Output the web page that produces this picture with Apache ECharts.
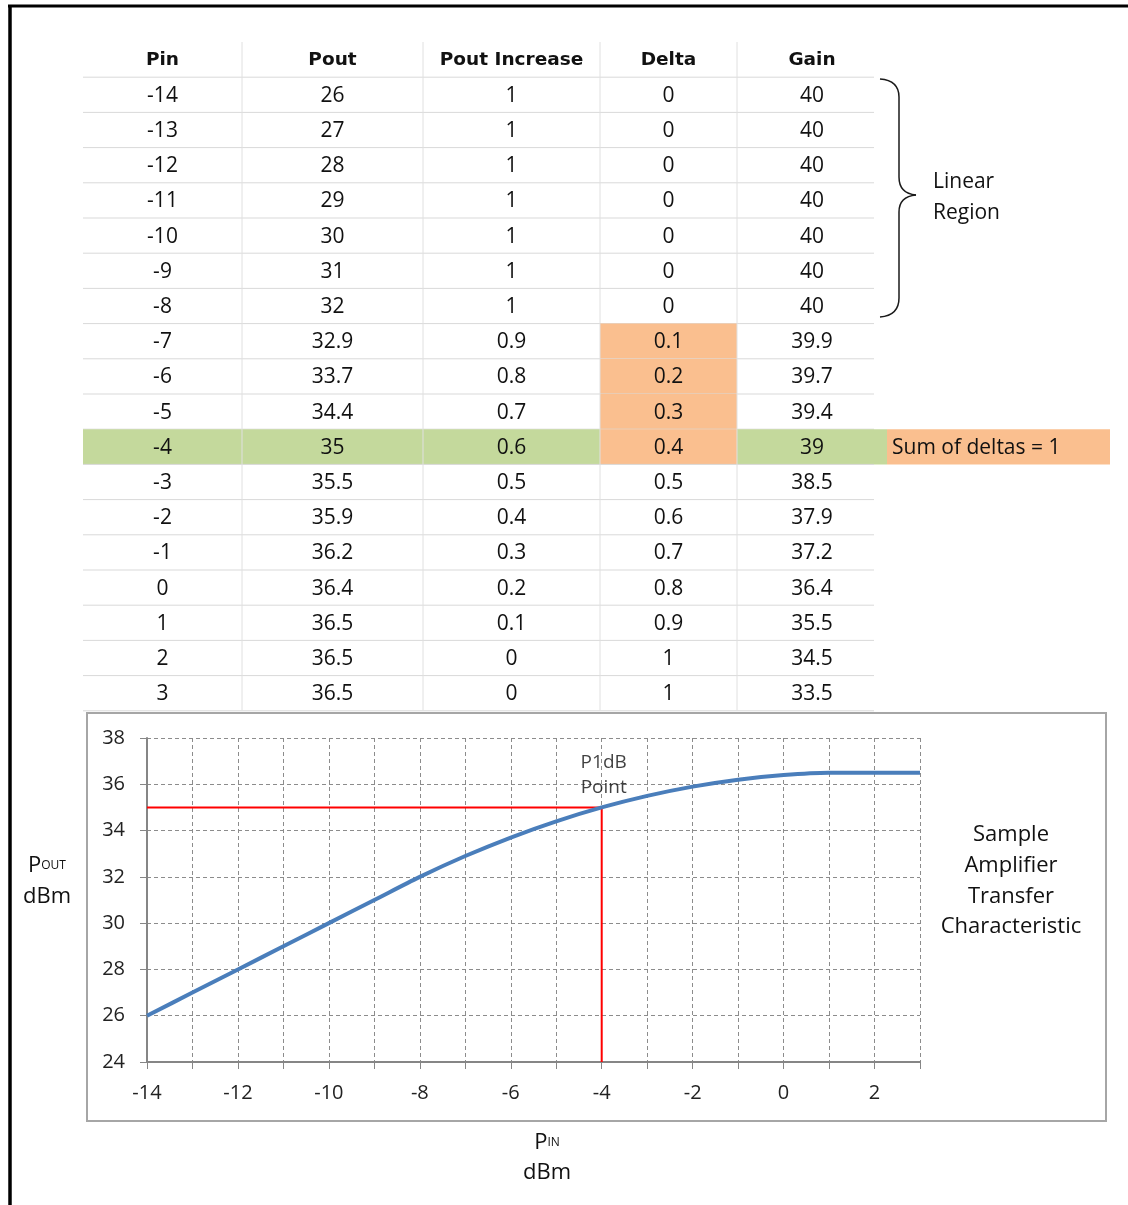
<!DOCTYPE html>
<html><head><meta charset="utf-8">
<script src="https://cdn.jsdelivr.net/npm/echarts@6/dist/echarts.min.js"></script>
<style>html,body{margin:0;padding:0;background:#fff}#main{width:1128px;height:1205px}</style>
</head><body><div id="main"></div>
<script>
// ---------- data ----------
const columnHeaders = ['Pin', 'Pout', 'Pout Increase', 'Delta', 'Gain'];
const pinValues = [-14, -13, -12, -11, -10, -9, -8, -7, -6, -5, -4, -3, -2, -1, 0, 1, 2, 3];
const poutValues = [26, 27, 28, 29, 30, 31, 32, 32.9, 33.7, 34.4, 35, 35.5, 35.9, 36.2, 36.4, 36.5, 36.5, 36.5];
const poutIncrease = [1, 1, 1, 1, 1, 1, 1, 0.9, 0.8, 0.7, 0.6, 0.5, 0.4, 0.3, 0.2, 0.1, 0, 0];
const deltaValues = [0, 0, 0, 0, 0, 0, 0, 0.1, 0.2, 0.3, 0.4, 0.5, 0.6, 0.7, 0.8, 0.9, 1, 1];
const gainValues = [40, 40, 40, 40, 40, 40, 40, 39.9, 39.7, 39.4, 39, 38.5, 37.9, 37.2, 36.4, 35.5, 34.5, 33.5];
const p1dbPin = -4;
const deltaSumPins = [-7, -6, -5, -4];
const noteText = 'Sum of deltas = 1';
const linearRegionText = 'Linear\nRegion';
const chartTitle = 'Sample\nAmplifier\nTransfer\nCharacteristic';
const p1dbLabel = 'P1dB\nPoint';
const xRange = [-14, 3];
const yRange = [24, 38];

// ---------- layout / style ----------
const colLeft = [83, 242, 423, 600, 737, 887];
const colRight = [242, 423, 600, 737, 887, 1110];
const lineTrim = [0, 0, 0, 0, 13, 0];
const tableTop = 42, rowH = 35.2;
const GREEN = '#c4d99c', ORANGE = '#fabf8f';
const TXT = '#111111';
const columns = [pinValues, poutValues, poutIncrease, deltaValues, gainValues];
const rowKeys = ['hdr'].concat(pinValues.map(String));

function cellText(c, r) {
  if (c === 5) return (r > 0 && pinValues[r - 1] === p1dbPin) ? noteText : '';
  if (r === 0) return columnHeaders[c];
  return String(columns[c][r - 1]);
}
function cellFill(c, r) {
  if (r === 0) return null;
  const pin = pinValues[r - 1];
  if (c === 5) return pin === p1dbPin ? ORANGE : null;
  if (c === 3 && deltaSumPins.indexOf(pin) >= 0) return ORANGE;
  if (pin === p1dbPin) return GREEN;
  return null;
}
function makeCellRenderer(c) {
  return function (params, api) {
    const r = api.value(1);
    const ctr = api.coord([0.5, r]);
    const size = api.size([1, 1]);
    const w = size[0], h = size[1];
    const x0 = ctr[0] - w / 2, y0 = ctr[1] - h / 2;
    const children = [];
    const fill = cellFill(c, r);
    if (fill) children.push({ type: 'rect', shape: { x: x0, y: y0, width: w, height: h }, style: { fill: fill } });
    if (c < 5) {
      children.push({ type: 'line', shape: { x1: x0, y1: y0 + h, x2: x0 + w - lineTrim[c], y2: y0 + h }, style: { stroke: '#d9d9d9', lineWidth: 1 } });
      if (c > 0) children.push({ type: 'line', shape: { x1: x0, y1: y0, x2: x0, y2: y0 + h }, style: { stroke: '#e0e0e0', lineWidth: 1 } });
    }
    const txt = cellText(c, r);
    if (txt) {
      children.push({
        type: 'text',
        style: {
          text: txt, x: c === 5 ? x0 + 5 : ctr[0], y: ctr[1] + 1,
          align: c === 5 ? 'left' : 'center', verticalAlign: 'middle',
          fontFamily: r === 0 ? 'DejaVu Sans' : 'Open Sans',
          fontWeight: r === 0 ? 'bold' : 'normal',
          fontSize: r === 0 ? 18.5 : 21, fill: TXT
        }
      });
    }
    return { type: 'group', children: children };
  };
}

const grids = [], xAxes = [], yAxes = [], series = [];
for (let c = 0; c < 6; c++) {
  grids.push({ left: colLeft[c], top: tableTop, width: colRight[c] - colLeft[c], height: rowH * rowKeys.length });
  xAxes.push({ type: 'value', gridIndex: c, min: 0, max: 1, show: false });
  yAxes.push({ type: 'category', gridIndex: c, data: rowKeys, inverse: true, show: false });
  series.push({
    type: 'custom', xAxisIndex: c, yAxisIndex: c, clip: false, silent: true,
    renderItem: makeCellRenderer(c),
    data: rowKeys.map(function (k, i) { return [0.5, i]; })
  });
}

// chart grid
const CG = 6;
grids.push({ left: 147, top: 738, width: 773, height: 324 });
const axisGrey = '#868686';
xAxes.push({
  type: 'value', gridIndex: CG, min: xRange[0], max: xRange[1], interval: 1,
  axisLine: { show: true, onZero: false, lineStyle: { color: axisGrey, width: 2 } },
  axisTick: { show: true, length: 7, lineStyle: { color: axisGrey, width: 1 } },
  axisLabel: { margin: 21, fontFamily: 'Open Sans', fontSize: 20, color: '#222222',
    formatter: function (v) { return (v % 2 === 0 && v < xRange[1]) ? String(v) : ''; } },
  splitLine: { show: true, lineStyle: { color: '#8c8c8c', type: [4, 3], width: 1 } }
});
yAxes.push({
  type: 'value', gridIndex: CG, min: yRange[0], max: yRange[1], interval: 2,
  axisLine: { show: true, onZero: false, lineStyle: { color: axisGrey, width: 2 } },
  axisTick: { show: true, length: 7, lineStyle: { color: axisGrey, width: 1 } },
  axisLabel: { margin: 22, fontFamily: 'Open Sans', fontSize: 20, color: '#222222' },
  splitLine: { show: true, lineStyle: { color: '#8c8c8c', type: [4, 3], width: 1 } }
});
const p1dbIdx = pinValues.indexOf(p1dbPin);
const p1dbPout = poutValues[p1dbIdx];
series.push({
  type: 'line', xAxisIndex: CG, yAxisIndex: CG, silent: true, symbol: 'none',
  lineStyle: { color: '#ff0000', width: 2 },
  data: [[pinValues[0], p1dbPout], [p1dbPin, p1dbPout], [p1dbPin, yRange[0]]]
});
series.push({
  type: 'line', xAxisIndex: CG, yAxisIndex: CG, silent: true, symbol: 'none', smooth: 0.3,
  lineStyle: { color: '#4a7ebb', width: 4 },
  data: pinValues.map(function (p, i) { return [p, poutValues[i]]; })
});
series.push({
  type: 'scatter', xAxisIndex: CG, yAxisIndex: CG, silent: true, symbolSize: 0,
  data: [[p1dbPin, p1dbPout]],
  label: { show: true, position: 'top', distance: 7, offset: [2, 0], formatter: p1dbLabel,
    fontFamily: 'Open Sans', fontSize: 19, lineHeight: 25, color: TXT, align: 'center' }
});

const txtFont = 'Open Sans';
const braceStyle = { fill: 'none', stroke: '#1a1a1a', lineWidth: 1.5 };
const option = {
  animation: false,
  backgroundColor: '#ffffff',
  grid: grids, xAxis: xAxes, yAxis: yAxes, series: series,
  graphic: [
    { type: 'line', shape: { x1: 8, y1: 6, x2: 1128, y2: 6 }, style: { stroke: '#000', lineWidth: 3 } },
    { type: 'line', shape: { x1: 10, y1: 5, x2: 10, y2: 1205 }, style: { stroke: '#000', lineWidth: 3.5 } },
    { type: 'rect', shape: { x: 87, y: 713, width: 1019, height: 408 }, style: { fill: 'none', stroke: '#a6a6a6', lineWidth: 2 }, z: -1 },
    { type: 'bezierCurve', shape: { x1: 880, y1: 79, cpx1: 893, cpy1: 80, cpx2: 899, cpy2: 86, x2: 899, y2: 97 }, style: braceStyle },
    { type: 'line', shape: { x1: 899, y1: 97, x2: 899, y2: 177 }, style: braceStyle },
    { type: 'bezierCurve', shape: { x1: 899, y1: 177, cpx1: 899, cpy1: 188, cpx2: 905, cpy2: 194, x2: 916, y2: 195 }, style: braceStyle },
    { type: 'bezierCurve', shape: { x1: 916, y1: 195, cpx1: 905, cpy1: 196, cpx2: 899, cpy2: 202, x2: 899, y2: 212 }, style: braceStyle },
    { type: 'line', shape: { x1: 899, y1: 212, x2: 899, y2: 298 }, style: braceStyle },
    { type: 'bezierCurve', shape: { x1: 899, y1: 298, cpx1: 899, cpy1: 309, cpx2: 893, cpy2: 316, x2: 880, y2: 317 }, style: braceStyle },
    { type: 'text', x: 933, y: 198, style: { text: linearRegionText, fontFamily: txtFont, fontSize: 21, lineHeight: 31, fill: TXT, align: 'left', verticalAlign: 'middle' } },
    { type: 'text', x: 1011, y: 881, style: { text: chartTitle, fontFamily: txtFont, fontSize: 22, lineHeight: 30.7, fill: TXT, align: 'center', verticalAlign: 'middle' } },
    { type: 'text', x: 47, y: 881, style: { text: '{p|P}{s|OUT}\n{d|dBm}', align: 'center', verticalAlign: 'middle',
        rich: { p: { fontFamily: txtFont, fontSize: 22, lineHeight: 31, fill: TXT },
                s: { fontFamily: txtFont, fontSize: 12, lineHeight: 31, fill: TXT },
                d: { fontFamily: txtFont, fontSize: 22, lineHeight: 31, fill: TXT } } } },
    { type: 'text', x: 547, y: 1158, style: { text: '{p|P}{s|IN}\n{d|dBm}', align: 'center', verticalAlign: 'middle',
        rich: { p: { fontFamily: txtFont, fontSize: 22, lineHeight: 30, fill: TXT },
                s: { fontFamily: txtFont, fontSize: 12, lineHeight: 30, fill: TXT },
                d: { fontFamily: txtFont, fontSize: 22, lineHeight: 30, fill: TXT } } } }
  ]
};
const chart = echarts.init(document.getElementById('main'));
chart.setOption(option);
</script>
</body></html>
